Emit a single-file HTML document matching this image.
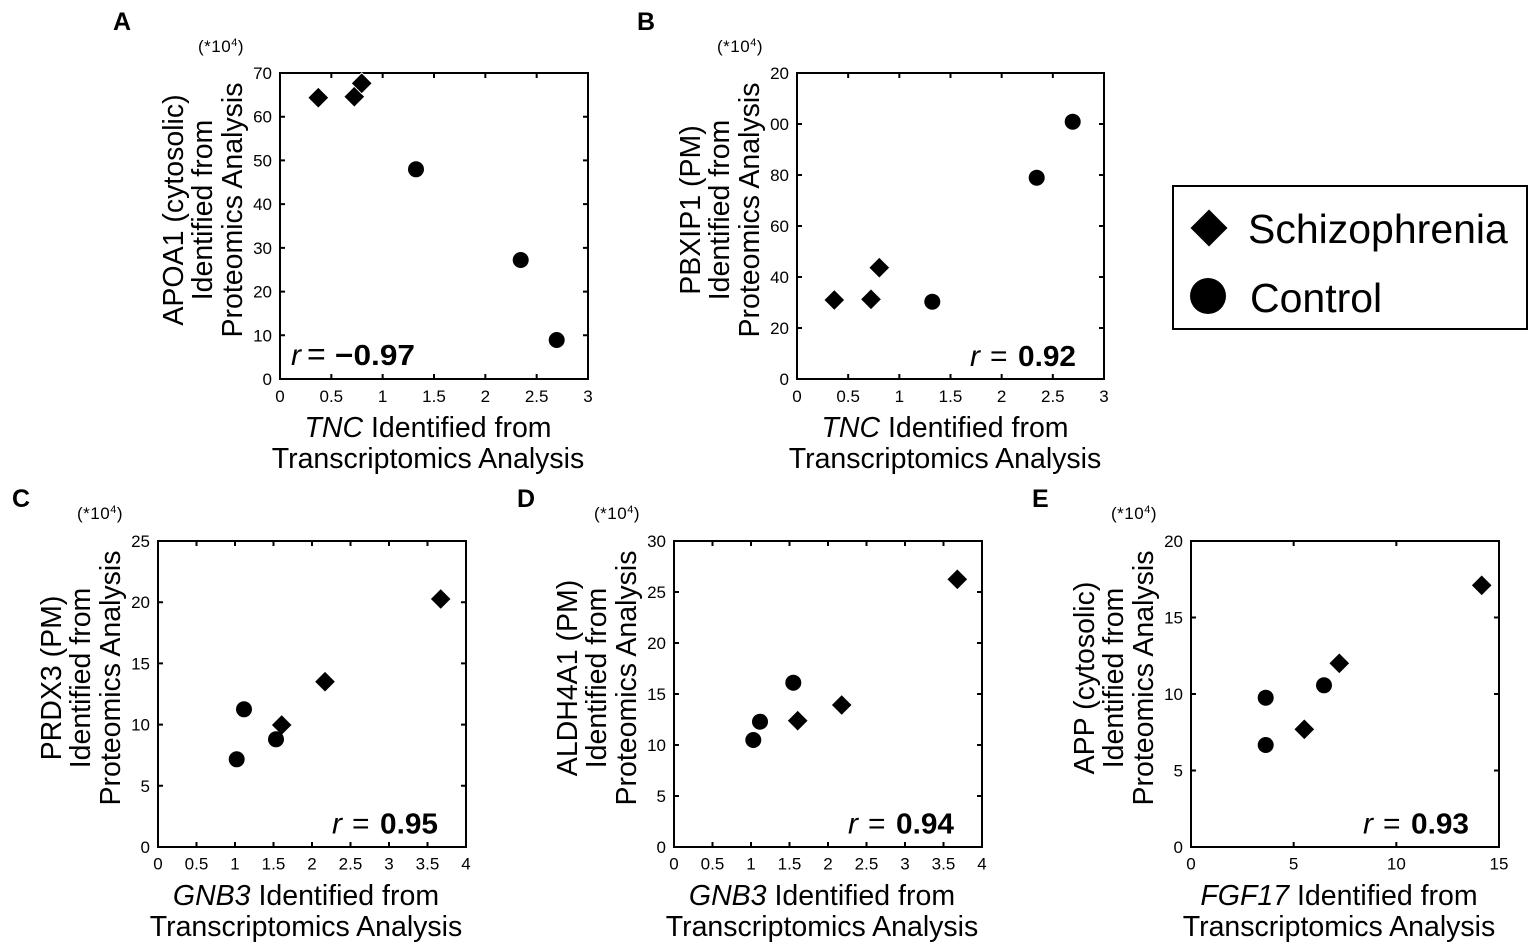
<!DOCTYPE html>
<html><head><meta charset="utf-8"><style>
html,body{margin:0;padding:0;background:#fff;}
svg{display:block;}
text{font-family:"Liberation Sans",Arial,sans-serif;fill:#000;}
.tl{font-size:17px;}
.ti{font-size:28.5px;}
.pl{font-size:25px;font-weight:bold;}
.ex{font-size:17px;letter-spacing:0.5px;}
.ax{fill:none;stroke:#000;stroke-width:2;}
.tk{stroke:#000;stroke-width:2;}
</style></head><body>
<svg width="1535" height="947" viewBox="0 0 1535 947" xmlns="http://www.w3.org/2000/svg">
<rect width="1535" height="947" fill="#fff"/>

<!-- Panel letters -->
<text class="pl" x="113" y="30">A</text>
<text class="pl" x="637" y="30">B</text>
<text class="pl" x="12" y="507">C</text>
<text class="pl" x="517" y="507">D</text>
<text class="pl" x="1032" y="507">E</text>

<!-- exponent labels -->
<text class="ex" x="198" y="52">(*10<tspan font-size="11" dy="-6">4</tspan><tspan dy="6">)</tspan></text>
<text class="ex" x="717" y="52">(*10<tspan font-size="11" dy="-6">4</tspan><tspan dy="6">)</tspan></text>
<text class="ex" x="77" y="519">(*10<tspan font-size="11" dy="-6">4</tspan><tspan dy="6">)</tspan></text>
<text class="ex" x="594" y="519">(*10<tspan font-size="11" dy="-6">4</tspan><tspan dy="6">)</tspan></text>
<text class="ex" x="1111" y="519">(*10<tspan font-size="11" dy="-6">4</tspan><tspan dy="6">)</tspan></text>

<!-- ================= Panel A ================= -->
<rect class="ax" x="280" y="73" width="308" height="306"/>
<g class="tk">
<path d="M331.33 379v-5M382.67 379v-5M434 379v-5M485.33 379v-5M536.67 379v-5
M331.33 73v5M382.67 73v5M434 73v5M485.33 73v5M536.67 73v5
M280 335.29h5M280 291.57h5M280 247.86h5M280 204.14h5M280 160.43h5M280 116.71h5
M588 335.29h-5M588 291.57h-5M588 247.86h-5M588 204.14h-5M588 160.43h-5M588 116.71h-5"/>
</g>
<g class="tl" text-anchor="middle">
<text x="280" y="402">0</text><text x="331.33" y="402">0.5</text><text x="382.67" y="402">1</text><text x="434" y="402">1.5</text><text x="485.33" y="402">2</text><text x="536.67" y="402">2.5</text><text x="588" y="402">3</text>
</g>
<g class="tl" text-anchor="end">
<text x="272" y="385">0</text><text x="272" y="341.29">10</text><text x="272" y="297.57">20</text><text x="272" y="253.86">30</text><text x="272" y="210.14">40</text><text x="272" y="166.43">50</text><text x="272" y="122.71">60</text><text x="272" y="79">70</text>
</g>
<g fill="#000" stroke="#fff" stroke-width="1">
<path d="M318.3 87.2L328.8 97.7L318.3 108.2L307.8 97.7Z"/>
<path d="M354.3 86.2L364.8 96.7L354.3 107.2L343.8 96.7Z"/>
<path d="M361.7 72.8L372.2 83.3L361.7 93.8L351.2 83.3Z"/>
</g>
<g fill="#000">
<circle cx="416" cy="169.3" r="8"/><circle cx="520.7" cy="260" r="8"/><circle cx="556.7" cy="340" r="8"/>
</g>
<text x="291" y="365" font-size="30" font-style="italic">r</text>
<text x="307" y="365" font-size="32">=</text>
<text x="335" y="365" font-size="29" font-weight="bold" textLength="80" lengthAdjust="spacingAndGlyphs">−0.97</text>
<g class="ti" text-anchor="middle">
<text x="428" y="437"><tspan font-style="italic">TNC</tspan> Identified from</text>
<text x="428" y="468">Transcriptomics Analysis</text>
<text transform="translate(183,210) rotate(-90)">APOA1 (cytosolic)</text>
<text transform="translate(212,210) rotate(-90)">Identified from</text>
<text transform="translate(242,210) rotate(-90)">Proteomics Analysis</text>
</g>

<!-- ================= Panel B ================= -->
<rect class="ax" x="797" y="73" width="307" height="306"/>
<g class="tk">
<path d="M848.17 379v-5M899.33 379v-5M950.5 379v-5M1001.67 379v-5M1052.83 379v-5
M848.17 73v5M899.33 73v5M950.5 73v5M1001.67 73v5M1052.83 73v5
M797 328h5M797 277h5M797 226h5M797 175h5M797 124h5
M1104 328h-5M1104 277h-5M1104 226h-5M1104 175h-5M1104 124h-5"/>
</g>
<g class="tl" text-anchor="middle">
<text x="797" y="402">0</text><text x="848.17" y="402">0.5</text><text x="899.33" y="402">1</text><text x="950.5" y="402">1.5</text><text x="1001.67" y="402">2</text><text x="1052.83" y="402">2.5</text><text x="1104" y="402">3</text>
</g>
<g class="tl" text-anchor="end">
<text x="789" y="385">0</text><text x="789" y="334">20</text><text x="789" y="283">40</text><text x="789" y="232">60</text><text x="789" y="181">80</text><text x="789" y="130">00</text><text x="789" y="79">20</text>
</g>
<g fill="#000" stroke="#fff" stroke-width="1">
<path d="M834.3 289.5L844.8 300L834.3 310.5L823.8 300Z"/>
<path d="M871 288.8L881.5 299.3L871 309.8L860.5 299.3Z"/>
<path d="M879.3 257.2L889.8 267.7L879.3 278.2L868.8 267.7Z"/>
</g>
<g fill="#000">
<circle cx="932.3" cy="301.7" r="8"/><circle cx="1036.7" cy="177.7" r="8"/><circle cx="1072.7" cy="121.7" r="8"/>
</g>
<text x="970" y="366" font-size="30" font-style="italic">r</text>
<text x="990" y="366" font-size="30">=</text>
<text x="1018" y="366" font-size="29" font-weight="bold" textLength="58" lengthAdjust="spacingAndGlyphs">0.92</text>
<g class="ti" text-anchor="middle">
<text x="945" y="437"><tspan font-style="italic">TNC</tspan> Identified from</text>
<text x="945" y="468">Transcriptomics Analysis</text>
<text transform="translate(700,210) rotate(-90)">PBXIP1 (PM)</text>
<text transform="translate(729,210) rotate(-90)">Identified from</text>
<text transform="translate(759,210) rotate(-90)">Proteomics Analysis</text>
</g>

<!-- Legend -->
<rect x="1173" y="186" width="354" height="143" fill="none" stroke="#000" stroke-width="2"/>
<path d="M1209 209.5L1227.5 228L1209 246.5L1190.5 228Z" fill="#000"/>
<circle cx="1208" cy="296" r="18" fill="#000"/>
<text x="1248" y="243" font-size="41">Schizophrenia</text>
<text x="1250" y="312" font-size="41">Control</text>

<!-- ================= Panel C ================= -->
<rect class="ax" x="158" y="541" width="308" height="306"/>
<g class="tk">
<path d="M196.5 847v-5M235 847v-5M273.5 847v-5M312 847v-5M350.5 847v-5M389 847v-5M427.5 847v-5
M196.5 541v5M235 541v5M273.5 541v5M312 541v5M350.5 541v5M389 541v5M427.5 541v5
M158 785.8h5M158 724.6h5M158 663.4h5M158 602.2h5
M466 785.8h-5M466 724.6h-5M466 663.4h-5M466 602.2h-5"/>
</g>
<g class="tl" text-anchor="middle">
<text x="158" y="869.5">0</text><text x="196.5" y="869.5">0.5</text><text x="235" y="869.5">1</text><text x="273.5" y="869.5">1.5</text><text x="312" y="869.5">2</text><text x="350.5" y="869.5">2.5</text><text x="389" y="869.5">3</text><text x="427.5" y="869.5">3.5</text><text x="466" y="869.5">4</text>
</g>
<g class="tl" text-anchor="end">
<text x="150" y="853">0</text><text x="150" y="791.8">5</text><text x="150" y="730.6">10</text><text x="150" y="669.4">15</text><text x="150" y="608.2">20</text><text x="150" y="547">25</text>
</g>
<g fill="#000" stroke="#fff" stroke-width="1">
<path d="M440.7 588.5L451.2 599L440.7 609.5L430.2 599Z"/>
<path d="M325 671.2L335.5 681.7L325 692.2L314.5 681.7Z"/>
<path d="M281.7 714.5L292.2 725L281.7 735.5L271.2 725Z"/>
</g>
<g fill="#000">
<circle cx="244" cy="709.3" r="8"/><circle cx="276" cy="739.3" r="8"/><circle cx="236.7" cy="759.3" r="8"/>
</g>
<text x="332" y="833.5" font-size="30" font-style="italic">r</text>
<text x="352" y="833.5" font-size="30">=</text>
<text x="380" y="833.5" font-size="29" font-weight="bold" textLength="58" lengthAdjust="spacingAndGlyphs">0.95</text>
<g class="ti" text-anchor="middle">
<text x="306" y="905"><tspan font-style="italic">GNB3</tspan> Identified from</text>
<text x="306" y="936">Transcriptomics Analysis</text>
<text transform="translate(61,678) rotate(-90)">PRDX3 (PM)</text>
<text transform="translate(90,678) rotate(-90)">Identified from</text>
<text transform="translate(120,678) rotate(-90)">Proteomics Analysis</text>
</g>

<!-- ================= Panel D ================= -->
<rect class="ax" x="674" y="541" width="308" height="306"/>
<g class="tk">
<path d="M712.5 847v-5M751 847v-5M789.5 847v-5M828 847v-5M866.5 847v-5M905 847v-5M943.5 847v-5
M712.5 541v5M751 541v5M789.5 541v5M828 541v5M866.5 541v5M905 541v5M943.5 541v5
M674 796h5M674 745h5M674 694h5M674 643h5M674 592h5
M982 796h-5M982 745h-5M982 694h-5M982 643h-5M982 592h-5"/>
</g>
<g class="tl" text-anchor="middle">
<text x="674" y="869.5">0</text><text x="712.5" y="869.5">0.5</text><text x="751" y="869.5">1</text><text x="789.5" y="869.5">1.5</text><text x="828" y="869.5">2</text><text x="866.5" y="869.5">2.5</text><text x="905" y="869.5">3</text><text x="943.5" y="869.5">3.5</text><text x="982" y="869.5">4</text>
</g>
<g class="tl" text-anchor="end">
<text x="666" y="853">0</text><text x="666" y="802">5</text><text x="666" y="751">10</text><text x="666" y="700">15</text><text x="666" y="649">20</text><text x="666" y="598">25</text><text x="666" y="547">30</text>
</g>
<g fill="#000" stroke="#fff" stroke-width="1">
<path d="M957.3 568.8L967.8 579.3L957.3 589.8L946.8 579.3Z"/>
<path d="M841.7 694.5L852.2 705L841.7 715.5L831.2 705Z"/>
<path d="M797.7 710.2L808.2 720.7L797.7 731.2L787.2 720.7Z"/>
</g>
<g fill="#000">
<circle cx="793.3" cy="682.7" r="8"/><circle cx="760" cy="721.7" r="8"/><circle cx="753.3" cy="740" r="8"/>
</g>
<text x="848" y="833.5" font-size="30" font-style="italic">r</text>
<text x="868" y="833.5" font-size="30">=</text>
<text x="896" y="833.5" font-size="29" font-weight="bold" textLength="58" lengthAdjust="spacingAndGlyphs">0.94</text>
<g class="ti" text-anchor="middle">
<text x="822" y="905"><tspan font-style="italic">GNB3</tspan> Identified from</text>
<text x="822" y="936">Transcriptomics Analysis</text>
<text transform="translate(577,678) rotate(-90)">ALDH4A1 (PM)</text>
<text transform="translate(606,678) rotate(-90)">Identified from</text>
<text transform="translate(636,678) rotate(-90)">Proteomics Analysis</text>
</g>

<!-- ================= Panel E ================= -->
<rect class="ax" x="1191" y="541" width="308" height="306"/>
<g class="tk">
<path d="M1293.67 847v-5M1396.33 847v-5
M1293.67 541v5M1396.33 541v5
M1191 770.5h5M1191 694h5M1191 617.5h5
M1499 770.5h-5M1499 694h-5M1499 617.5h-5"/>
</g>
<g class="tl" text-anchor="middle">
<text x="1191" y="869.5">0</text><text x="1293.67" y="869.5">5</text><text x="1396.33" y="869.5">10</text><text x="1499" y="869.5">15</text>
</g>
<g class="tl" text-anchor="end">
<text x="1183" y="853">0</text><text x="1183" y="776.5">5</text><text x="1183" y="700">10</text><text x="1183" y="623.5">15</text><text x="1183" y="547">20</text>
</g>
<g fill="#000" stroke="#fff" stroke-width="1">
<path d="M1481.7 574.8L1492.2 585.3L1481.7 595.8L1471.2 585.3Z"/>
<path d="M1339.3 652.8L1349.8 663.3L1339.3 673.8L1328.8 663.3Z"/>
<path d="M1304.3 718.8L1314.8 729.3L1304.3 739.8L1293.8 729.3Z"/>
</g>
<g fill="#000">
<circle cx="1324" cy="685.3" r="8"/><circle cx="1265.7" cy="697.7" r="8"/><circle cx="1265.7" cy="745" r="8"/>
</g>
<text x="1363" y="833.5" font-size="30" font-style="italic">r</text>
<text x="1383" y="833.5" font-size="30">=</text>
<text x="1411" y="833.5" font-size="29" font-weight="bold" textLength="58" lengthAdjust="spacingAndGlyphs">0.93</text>
<g class="ti" text-anchor="middle">
<text x="1339" y="905"><tspan font-style="italic">FGF17</tspan> Identified from</text>
<text x="1339" y="936">Transcriptomics Analysis</text>
<text transform="translate(1094,678) rotate(-90)">APP (cytosolic)</text>
<text transform="translate(1123,678) rotate(-90)">Identified from</text>
<text transform="translate(1153,678) rotate(-90)">Proteomics Analysis</text>
</g>
</svg>
</body></html>
